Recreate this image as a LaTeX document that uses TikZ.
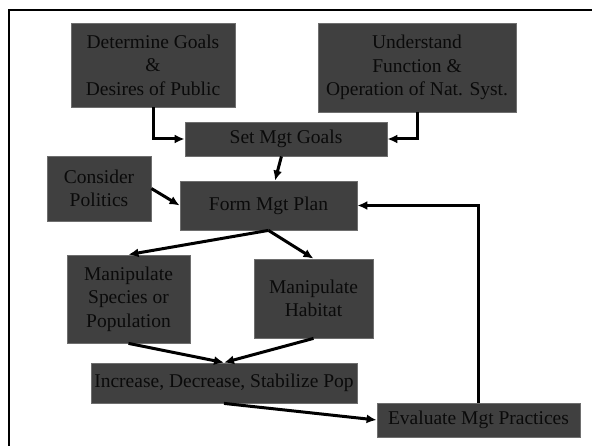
\documentclass[tikz,border=0pt]{standalone}
\usepackage{fontspec}
\setmainfont{Liberation Serif}
\usetikzlibrary{arrows.meta, positioning}
\definecolor{boxgray}{HTML}{404040}
\definecolor{boxline}{HTML}{6E6E6E}
\definecolor{boxtext}{HTML}{0A0A0A}

\begin{document}
\begin{tikzpicture} [x=1pt, y=-1pt, box/.style={rectangle, draw=boxline, fill=boxgray, text=boxtext, line width=0.8pt, inner sep=0pt, align=center, font=\fontsize{19.5}{23.5}\selectfont}, elbow/.style={to path={|- (\tikztotarget)}}]
\useasboundingbox (0,0) rectangle (592,446);
\draw [line width=2.5pt] (9,470) -- (9,10) -- (610,10);
\node (det) [box, minimum width=164pt, minimum height=84pt] at (153,65) {Determine Goals\\ \&\\ Desires of Public};
\node (und) [box, minimum width=198pt, minimum height=89pt] at (417,67.5) {Understand\\ Function \&\\ Operation of Nat. Syst.};
\node (setg) [box, minimum width=202pt, minimum height=34pt] at (286,139) {Set Mgt Goals};
\node (pol) [box, minimum width=104pt, minimum height=65pt] at (99,188.5) {Consider\\ Politics};
\node (plan) [box, minimum width=177pt, minimum height=49pt] at (268.5,205.5) {Form Mgt Plan};
\node (spec) [box, minimum width=123pt, minimum height=88pt] at (128.5,299) {Manipulate\\ Species or\\ Population};
\node (hab) [box, minimum width=119pt, minimum height=79pt] at (313.5,298.5) {Manipulate\\ Habitat};
\node (incr) [box, minimum width=266pt, minimum height=40pt] at (224,383) {Increase, Decrease, Stabilize Pop};
\node (eval) [box, minimum width=203pt, minimum height=34pt] at (478.5,420) {Evaluate Mgt Practices};
\path [-{Latex[length=10pt, width=9pt]}, line width=3pt]
    (det) edge [elbow] (setg)
    (und) edge [elbow] (setg)
    (setg) edge (plan)
    (pol.east) edge (plan.west)
    (plan.south) edge (spec.north)
    (plan.south) edge (hab.north)
    (spec.south) edge (incr.north)
    (hab.south) edge (incr.north)
    (incr.south) edge (eval.west)
    (eval) edge [elbow] (plan);
\end{tikzpicture}
\end{document}
